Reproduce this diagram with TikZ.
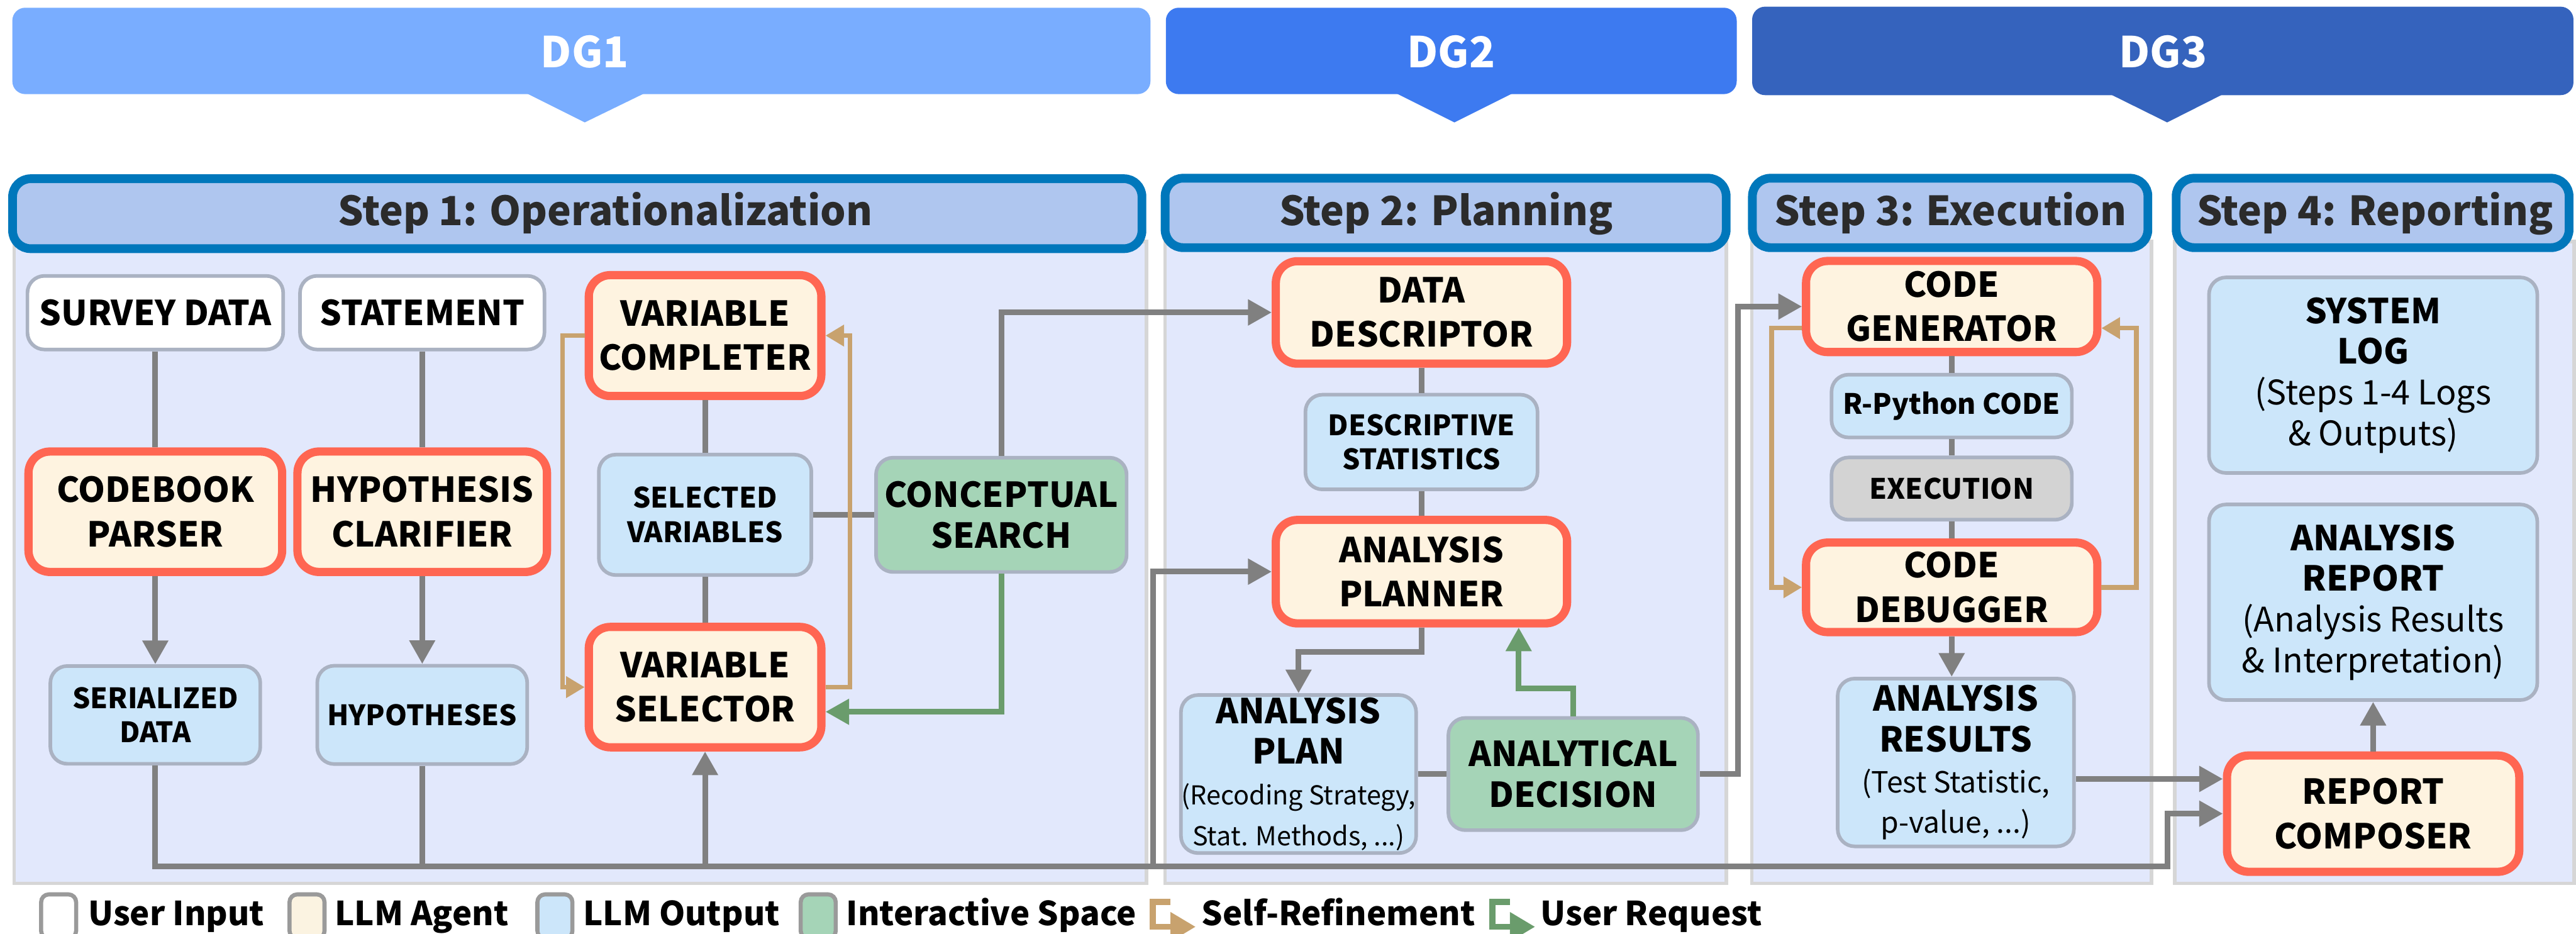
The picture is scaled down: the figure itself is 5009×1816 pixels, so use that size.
\documentclass[tikz,border=0pt]{standalone}
\usepackage{fontspec}
\setmainfont{Noto Sans CJK KR}
\usetikzlibrary{arrows.meta,calc}
\definecolor{dgA}{HTML}{79ADFF}
\definecolor{dgB}{HTML}{3D7AF0}
\definecolor{dgC}{HTML}{3563BD}
\definecolor{hdrB}{HTML}{0077BB}
\definecolor{hdrF}{HTML}{AFC6EF}
\definecolor{panF}{HTML}{E2E8FC}
\definecolor{panB}{HTML}{D6D6D6}
\definecolor{agF}{HTML}{FEF3E0}
\definecolor{agB}{HTML}{FF6652}
\definecolor{outF}{HTML}{CCE6FA}
\definecolor{outB}{HTML}{AAB2C2}
\definecolor{intF}{HTML}{A5D4B7}
\definecolor{exF}{HTML}{D3D3D3}
\definecolor{lnG}{HTML}{808080}
\definecolor{lnT}{HTML}{C8A26E}
\definecolor{lnV}{HTML}{6A9C6C}
\definecolor{hdrT}{HTML}{2B2B2B}
\definecolor{legB}{HTML}{9A9A9A}
\definecolor{legA}{HTML}{FBF3E1}
\newcommand\txB{\fontsize{19}{24.5}\selectfont\bfseries}
\newcommand\txO{\fontsize{19}{22.5}\selectfont\bfseries}
\newcommand\txS{\fontsize{15.5}{19}\selectfont\bfseries}
\newcommand\txR{\fontsize{18.7}{22}\selectfont\mdseries}
\newcommand\txQ{\fontsize{14.4}{18}\selectfont\mdseries}
\newcommand\txP{\fontsize{16.1}{19}\selectfont\mdseries}
\tikzset{
  agent/.style={draw=agB, fill=agF, line width=0.16cm, rounded corners=0.42cm, align=center, inner sep=0pt, font=\txB},
  outp/.style={draw=outB, fill=outF, line width=0.07cm, rounded corners=0.33cm, align=center, inner sep=0pt, font=\txO},
  uinp/.style={outp, fill=white},
  inter/.style={outp, fill=intF},
  execbox/.style={outp, fill=exF},
  grayc/.style={draw=lnG, line width=0.11cm},
  tanc/.style={draw=lnT, line width=0.09cm},
  greenc/.style={draw=lnV, line width=0.11cm},
  gtip/.style={-{Triangle[length=0.46cm,width=0.48cm]}},
  ttip/.style={-{Triangle[length=0.36cm,width=0.40cm]}},
  panel/.style={draw=panB, fill=panF, line width=0.07cm},
  hdr/.style={draw=hdrB, fill=hdrF, line width=0.17cm, rounded corners=0.35cm},
  hdrtext/.style={anchor=base, inner sep=0pt, text=hdrT, font=\fontsize{22.2}{26}\selectfont\bfseries},
  dgtext/.style={anchor=base, inner sep=0pt, text=white, font=\fontsize{23.5}{26}\selectfont\bfseries},
  legbox/.style={draw=legB, line width=0.08cm, rounded corners=0.15cm, minimum width=0.68cm, minimum height=0.86cm, inner sep=0pt},
  legtext/.style={anchor=base west, inner sep=0pt, font=\fontsize{18.3}{22}\selectfont\bfseries},
}
\begin{document}
\begin{tikzpicture}[x=0.01cm,y=-0.01cm]
\useasboundingbox (0,0) rectangle (5009,1816);
\clip (0,0) rectangle (5009,1816);

% DG banners
\fill[dgA, rounded corners=0.25cm] (24,15) rectangle (2237,183);
\fill[dgA] (1025,182) -- (1252,182) -- (1137,238) -- cycle;
\fill[dgB, rounded corners=0.25cm] (2267,15) rectangle (3377,183);
\fill[dgB] (2716,182) -- (2940,182) -- (2828,238) -- cycle;
\fill[dgC, rounded corners=0.25cm] (3407,13) rectangle (5004,185);
\fill[dgC] (4105,184) -- (4321,184) -- (4214,238) -- cycle;
\node[dgtext] (dg1) at (1137,132) {DG1};
\node[dgtext] (dg2) at (2822,132) {DG2};
\node[dgtext] (dg3) at (4206,132) {DG3};

% panels
\draw[panel] (27.5,470) rectangle (2229.5,1717.5);
\draw[panel] (2265.5,470) rectangle (3356.5,1717.5);
\draw[panel] (3406.5,470) rectangle (4183.5,1717.5);
\draw[panel] (4228.5,470) rectangle (5005.5,1717.5);

% step headers
\draw[hdr] (24.5,347.5) rectangle (2220.5,483.5);
\draw[hdr] (2265.5,346.5) rectangle (3356.5,481.5);
\draw[hdr] (3407.5,346.5) rectangle (4176.5,481.5);
\draw[hdr] (4231.5,346.5) rectangle (4995.5,481.5);
\node[hdrtext] (h1) at (1177,439) {Step 1: Operationalization};
\node[hdrtext] (h2) at (2812,439) {Step 2: Planning};
\node[hdrtext] (h3) at (3793,439) {Step 3: Execution};
\node[hdrtext] (h4) at (4618,439) {Step 4: Reporting};

% step 1 nodes
\node[uinp, minimum width=4.97cm, minimum height=1.43cm] (survey) at (302,608) {SURVEY DATA};
\node[uinp, minimum width=4.75cm, minimum height=1.43cm] (statement) at (821,608) {STATEMENT};
\node[agent, minimum width=4.93cm, minimum height=2.34cm] (codebook) at (302,995) {CODEBOOK\\PARSER};
\node[agent, minimum width=4.85cm, minimum height=2.34cm] (clarifier) at (821,995) {HYPOTHESIS\\CLARIFIER};
\node[outp, font=\txS, minimum width=4.08cm, minimum height=1.90cm] (serialized) at (302,1390) {SERIALIZED\\DATA};
\node[outp, font=\txS, minimum width=4.08cm, minimum height=1.91cm] (hypotheses) at (821,1390) {HYPOTHESES};
\node[agent, minimum width=4.52cm, minimum height=2.35cm] (completer) at (1371,652.5) {VARIABLE\\COMPLETER};
\node[outp, font=\txS, minimum width=4.13cm, minimum height=2.34cm] (selected) at (1371,1001) {SELECTED\\VARIABLES};
\node[agent, minimum width=4.52cm, minimum height=2.34cm] (selector) at (1371,1336) {VARIABLE\\SELECTOR};
\node[inter, minimum width=4.87cm, minimum height=2.22cm] (conceptual) at (1947,1001) {CONCEPTUAL\\SEARCH};

% step 2 nodes
\node[agent, minimum width=5.66cm, minimum height=1.99cm] (descriptor) at (2764,607.5) {DATA\\DESCRIPTOR};
\node[outp, font=\txS, minimum width=4.51cm, minimum height=1.84cm] (descstats) at (2764,859.5) {DESCRIPTIVE\\STATISTICS};
\node[agent, minimum width=5.66cm, minimum height=2.01cm] (planner) at (2764,1111.5) {ANALYSIS\\PLANNER};
\node[outp, minimum width=4.57cm, minimum height=3.07cm] (plan) at (2525,1505) {ANALYSIS\\PLAN\\\txQ (Recoding Strategy,\\\txQ Stat. Methods, ...)};
\node[inter, minimum width=4.85cm, minimum height=2.18cm] (decision) at (3059,1505) {ANALYTICAL\\DECISION};

% step 3 nodes
\node[agent, minimum width=5.66cm, minimum height=1.77cm] (generator) at (3795,596) {CODE\\GENERATOR};
\node[outp, font=\txS, minimum width=4.67cm, minimum height=1.22cm] (rpython) at (3795,789.5) {R-Python CODE};
\node[execbox, font=\txS, minimum width=4.67cm, minimum height=1.21cm] (execution) at (3795,950) {EXECUTION};
\node[agent, minimum width=5.66cm, minimum height=1.74cm] (debugger) at (3795,1142) {CODE\\DEBUGGER};
\node[outp, minimum width=4.59cm, minimum height=3.26cm] (results) at (3803,1482.5) {ANALYSIS\\RESULTS\\\txP (Test Statistic,\\\txP p-value, ...)};

% step 4 nodes
\node[outp, minimum width=6.38cm, minimum height=3.80cm] (syslog) at (4614.5,729.5) {SYSTEM\\LOG\\\txR (Steps 1-4 Logs\\\txR \& Outputs)};
\node[outp, minimum width=6.38cm, minimum height=3.80cm] (report) at (4614.5,1171) {ANALYSIS\\REPORT\\\txR (Analysis Results\\\txR \& Interpretation)};
\node[agent, minimum width=5.68cm, minimum height=2.26cm] (composer) at (4614.5,1582) {REPORT\\COMPOSER};

% helper coordinates
\coordinate (busR) at (4215,1685);
\coordinate (tanL1) at (1094,0);
\coordinate (tanR1) at (1653,0);
\coordinate (busP) at (2242,1685);
\coordinate (decX) at (3380,0);
\coordinate (g3L) at (3445,638);
\coordinate (g3R) at (4154,638);
\coordinate (rtA) at ($(results.east)+(0,32)$);
\coordinate (selG) at ($(selector.east)+(0,48)$);
\coordinate (plG) at ($(planner.south)+(189,0)$);

% step 1 connectors
\draw[grayc] (survey.south) -- (codebook.north);
\draw[grayc] (statement.south) -- (clarifier.north);
\draw[grayc, gtip] (codebook.south) -- (serialized.north);
\draw[grayc, gtip] (clarifier.south) -- (hypotheses.north);
\draw[grayc] (completer.south) -- (selected.north);
\draw[grayc] (selected.south) -- (selector.north);
\draw[grayc] (selected.east) -- (conceptual.west);
\draw[tanc, ttip] (completer.west) -- (completer.west -| tanL1) |- (selector.west);
\draw[tanc, ttip] (selector.east) -- (selector.east -| tanR1) |- (completer.east);
\draw[grayc, gtip] (conceptual.north) |- (descriptor.west);
\draw[greenc, gtip] (conceptual.south) |- (selG);

% bus
\draw[grayc, gtip] (serialized.south) |- (busR) |- (composer.west);
\draw[grayc] (hypotheses.south) -- (hypotheses.south |- busR);
\draw[grayc, gtip] (selector.south |- busR) -- (selector.south);
\draw[grayc, gtip] (busP) |- (planner.west);

% step 2 connectors
\draw[grayc] (descriptor.south) -- (descstats.north);
\draw[grayc] (descstats.south) -- (planner.north);
\draw[grayc, gtip] (planner.south) -- ++(0,48) -| (plan.north);
\draw[grayc] (plan.east) -- (decision.west);
\draw[greenc, gtip] (decision.north) -- ++(0,-54) -| (plG);
\draw[grayc, gtip] (decision.east) -- (decision.east -| decX) |- (generator.west);

% step 3 connectors
\draw[grayc] (generator.south) -- (rpython.north);
\draw[grayc] (rpython.south) -- (execution.north);
\draw[grayc] (execution.south) -- (debugger.north);
\draw[tanc, ttip] (generator.west |- g3L) -- (g3L) |- (debugger.west);
\draw[tanc, ttip] (debugger.east) -| (g3R) -- (generator.east |- g3R);
\draw[grayc, gtip] (debugger.south) -- (debugger.south |- results.north);
\draw[grayc, gtip] (rtA) -- (rtA -| composer.west);

% step 4 connectors
\draw[grayc, gtip] (composer.north) -- (composer.north |- report.south);

% legend
\node[legbox, fill=white] (lg1) at (114,1782) {};
\node[legtext] (lt1) at (171,1800) {User Input};
\node[legbox, fill=legA] (lg2) at (597,1782) {};
\node[legtext] (lt2) at (650,1800) {LLM Agent};
\node[legbox, fill=outF] (lg3) at (1079,1782) {};
\node[legtext] (lt3) at (1133,1800) {LLM Output};
\node[legbox, fill=intF] (lg4) at (1591,1782) {};
\node[legtext] (lt4) at (1645,1800) {Interactive Space};
\draw[lnT, line width=0.12cm, -{Triangle[length=0.49cm,width=0.54cm]}] (2276,1754) -- (2242,1754) -- (2242,1802) -- (2325,1802);
\node[legtext] (lt5) at (2336,1800) {Self-Refinement};
\draw[lnV, line width=0.12cm, -{Triangle[length=0.49cm,width=0.54cm]}] (2936,1754) -- (2902,1754) -- (2902,1802) -- (2985,1802);
\node[legtext] (lt6) at (2995,1800) {User Request};
\end{tikzpicture}
\end{document}
